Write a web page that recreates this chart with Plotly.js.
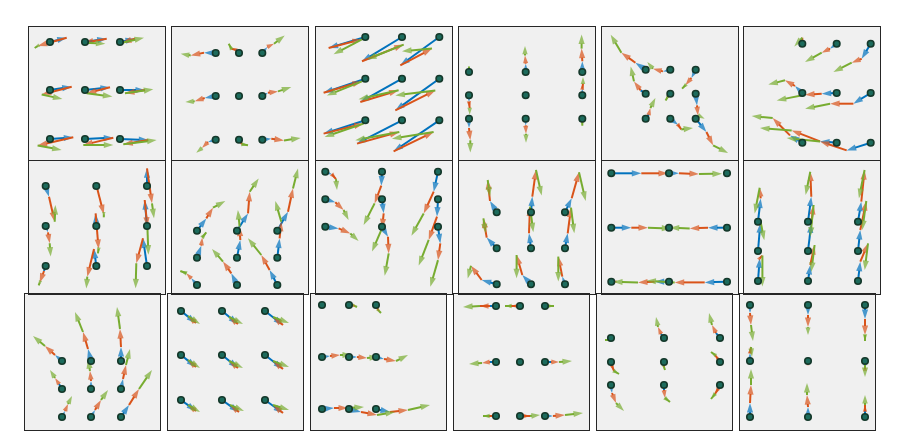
<!DOCTYPE html>
<html><head><meta charset="utf-8">
<script src="https://cdn.plot.ly/plotly-3.0.1.min.js"></script>
<style>html,body{margin:0;padding:0;background:#fff}#plot{width:913px;height:444px}</style>
</head><body><div id="plot"></div>
<script>
// Each panel: 3x3 grid of start points (gx columns, gy rows), and for each point
// three chained step vectors: blue, then orange (from blue tip), then green (from orange tip).
// Points are ordered row by row (top row first), left to right.
const gx1=[21,56,91], gy1=[15,63,112];
const blue1=[[16.7,-4.3],[21.7,-3.3],[15,-3.3],[21.7,-3.3],[25,-2.7],[25,0],[23.3,-1.7],[28.3,-1.3],[28.3,1]];
const orange1=[[-29,8.3],[-23,4],[-13,4],[-30,7.7],[-23.3,6],[-20,3.3],[-35.7,8.3],[-30,7.3],[-25,4.3]];
const green1=[[-3,2],[21.7,1],[22,-5],[20.7,4.7],[25.7,3.3],[28.3,-4],[24,4.3],[30,0],[33.3,-4.3]];

const gx2=[43.7,67,90.3], gy2=[26,69,112.7];
const blue2=[[-11.7,-0.3],[-3.3,-3.3],[5,-6],[-11,2],[-0.7,0],[5.7,-3.3],[-7.7,2.3],[1.7,2.3],[9,-1]];
const orange2=[[-13.3,2.7],[-4.3,-1],[6.7,-3.3],[-10,3.3],[-0.7,0.3],[10,-1.3],[-6,6],[1.3,2.3],[12.7,1.7]];
const green2=[[-10,-1.7],[-2.7,-5],[10.7,-8.3],[-9.3,0.7],[-1.7,0.3],[13.3,-4.3],[-5.7,4.7],[6,1],[16.7,-2.3]];

const gx3=[49.3,86,123.3], gy3=[10,51.7,93.3];
const blue3=[[-36.7,11],[-40,24.3],[-39,28.3],[-41.7,14],[-41.7,23.3],[-44,31.7],[-41.7,13.3],[-45,23.3],[-45.7,31]];
const orange3=[[33.3,-8.7],[41.7,-16.7],[31.7,-16.7],[38.3,-11.3],[38.3,-11.7],[40,-20],[40,-10],[42.3,-11.7],[40,-19.3]];
const green3=[[-28.3,15],[-36.7,14.7],[-30,2.7],[-35,14],[-40,9],[-40,5],[-39,13.3],[-44,8.3],[-41.7,6.7]];

const gx4=[10,66.7,123.3], gy4=[45,68.3,91.7];
const blue4=[[0,-1.7],[0,-8.3],[0,-10.7],[0,6.7],[0,0.3],[0,-6.7],[0,9.3],[0,6.7],[0,2.7]];
const orange4=[[0,-1],[-0.7,-8.3],[-0.7,-12.7],[0.7,6],[0,0.3],[0.7,-5],[1.3,12.3],[0.3,8.3],[0,1.3]];
const green4=[[0,-2.7],[0,-9.3],[0,-14],[0,6.7],[0,0.3],[0,-6.7],[0,12.3],[0,9],[0,3]];

const gx5=[43.7,68.3,93.7], gy5=[42.7,66.7,91.7];
const blue5=[[-10.3,-7],[-7.3,1.7],[-4.3,8.3],[-5,-3.3],[-1,1],[1.3,11.7],[3,-4],[7.7,6],[10.7,13.3]];
const orange5=[[-14,-10],[-10,-2.7],[-6,7.3],[-6.7,-9],[-2,2.7],[1,10],[1.7,-6.7],[3.3,4.7],[6.7,13.3]];
const green5=[[-10.7,-18],[-5.7,-6.7],[-3.3,3.3],[-3.3,-15],[-1.7,3],[6.7,3.3],[5,-10],[11.7,-1.3],[15,7.7]];

const gx6=[58.3,92.7,126.7], gy6=[16.7,66,115.7];
const blue6=[[0,-2],[-6.7,5],[-9,15],[-7.3,-7],[-15,0.7],[-17.3,10.7],[-12.3,-7.3],[-16.7,-1.3],[-24,7.7]];
const orange6=[[0,-4],[-8.3,4],[-10,4],[-10,-5.7],[-16.7,1],[-23.3,0],[-17.3,-17.3],[-28.3,-11],[-26.7,-9]];
const green6=[[-8,8.7],[-16.7,9.3],[-18.3,9.3],[-16.7,4.3],[-28.3,5.7],[-25,5],[-21,-2],[-31.7,-2.3],[-33.3,-3.3]];

const gx7=[16.7,67.3,118], gy7=[25,65,105];
const blue7=[[3.3,10.7],[0.5,1],[0,-17.7],[2.3,6.3],[-0.7,-12.7],[-2.3,-26],[-1.7,5],[-2.3,-17],[-4,-27.7]];
const orange7=[[5.7,25],[7,27.3],[5,35],[1.7,11],[3,35.7],[2.7,26.7],[-4.3,11.7],[-6.7,27.7],[-6.7,25]];
const green7=[[0.7,-16.7],[0,3],[2,15],[1,13.3],[-0.7,4.3],[1,28],[-1,2.7],[-1,11.7],[-0.7,25]];

const gx8=[25,65,105.3], gy8=[69.7,96.7,124];
const blue8=[[9.3,-12.3],[11,-17.3],[10.7,-19],[4.3,-12],[3.3,-17.7],[2.3,-19.3],[-5.7,-6.7],[-5.7,-11.7],[-7.7,-15]];
const orange8=[[6.7,-10.7],[1.7,-21.7],[5,-23.3],[1,-8.3],[-0.7,-13.3],[1.7,-16.7],[-5,-5],[-8.3,-11.7],[-8.3,-15]];
const green8=[[12.3,-6.7],[9,-13.3],[5,-20],[4,-5],[-1.7,-16.7],[-6,-20.7],[-6,-2.3],[-11,-12.7],[-13.3,-16.7]];

const gx9=[9.3,66,122], gy9=[10.7,38.3,65.7];
const blue9=[[6.7,2.7],[-0.7,14],[-4.3,20],[10,3],[1.7,14],[-1,17.3],[13.3,1.7],[6,10],[2.3,16.7]];
const orange9=[[4,4.7],[-6.7,17.7],[-10,21.7],[8.3,7.7],[-1.7,15],[-8.3,23.3],[11.7,5],[0.7,16.7],[-2.3,16.7]];
const green9=[[1,11],[-11,21.7],[-12.3,22.3],[5,10],[-10,23.3],[-10,25.7],[8.3,7.7],[-4,22.3],[-7.7,26.7]];

const gx10=[37.7,72,106], gy10=[51.3,87.3,123.3];
const blue10=[[-6.7,-11.3],[1.3,-15.7],[6.7,-14],[-10,-10.7],[-2,-15],[2.7,-15],[-15,-4.3],[-8.7,-9.3],[-2.7,-7.7]];
const orange10=[[-2.3,-21],[3.7,-26.7],[7.3,-26],[-3.3,-19.3],[1,-26.7],[3.3,-25.7],[-10.7,-14.3],[-5.7,-20],[-4,-20]];
const green10=[[2.3,16.7],[5.7,25.7],[6.7,28.7],[2.3,15],[3.3,25.7],[3.3,25.7],[-3.3,12.7],[0,23.3],[0,25]];

const gx11=[9.3,67,125], gy11=[12.3,66.7,120.7];
const blue11=[[30,0],[10,0],[0.5,0],[20,0],[-1,0],[-19,0],[2,0],[-14.3,0],[-22.3,0.7]];
const orange11=[[26.7,0],[20,0.7],[-1,0],[16.7,0],[1,0],[-18.3,0.7],[-1,0],[-16.7,0.7],[-30,0]];
const green11=[[3,0],[23,-0.3],[-3,0],[23.3,0.7],[-1,0],[-20,-0.7],[-3,0],[-25,-0.7],[-28.3,-1.7]];

const gx12=[14,64,114], gy12=[60.7,90,120];
const blue12=[[2.7,-23.3],[3.3,-25],[3.3,-20],[2.3,-27.7],[3.3,-27.7],[2.3,-21],[1.7,-22.7],[2.3,-16],[2.3,-19.3]];
const orange12=[[-1,-10.7],[-1,-25],[3.3,-31.7],[0,-3],[2.3,-18.3],[6,-29],[2.7,-2.7],[4.3,-20],[7.7,-18.3]];
const green12=[[-5,25.7],[-4.7,23.3],[-5.7,28.3],[4,20],[-3.3,31.7],[-4,29],[0,31],[-3.3,26.7],[-3.3,26.7]];

const gx13=[37,66,96], gy13=[67,95,123];
const blue13=[[-7,-6],[-3,-12],[0,-14],[-3,-5],[0,-8],[2,-10],[3,-6],[4,-7],[8,-12]];
const orange13=[[-10,-9],[-5,-17],[-1,-18],[-4,-6],[-1,-10],[3,-14],[3,-7],[6,-10],[10,-16]];
const green13=[[-12,-10],[-8,-20],[-3,-22],[-5,-8],[-2,-12],[4,-16],[4,-8],[7,-10],[13,-19]];

const gx14=[13,54,97], gy14=[17,61,106];
const blue14=[[15,12],[16,13],[18,14],[15,12],[16,13],[18,14],[15,11],[17,12],[18,13]];
const orange14=[[-8,-7],[-9,-7],[-10,-8],[-8,-7],[-9,-7],[-10,-8],[-8,-6],[-9,-7],[-10,-8]];
const green14=[[12,8],[14,7],[16,6],[12,8],[14,7],[16,6],[12,7],[14,6],[16,5]];

const gx15=[11,38,65], gy15=[11,63,115];
const blue15=[[1,0],[3,0],[1,3],[8,-1],[8,0],[8,2],[12,-1],[12,3],[14,3]];
const orange15=[[1,0],[3,1],[2,3],[10,-1],[10,1],[12,2],[14,0],[16,3],[18,-2]];
const green15=[[1,0],[2,1],[2,2],[12,0],[12,-1],[12,-6],[16,-1],[18,-3],[22,-5]];

const gx16=[42,66,91], gy16=[12,68,122];
const blue16=[[-6,0],[-4,0],[1,0],[-6,0],[1,0],[6,0],[-3,0],[4,0],[8,0]];
const orange16=[[-10,0],[-5,0],[2,0],[-8,1],[0.5,0],[8,0],[-4,0],[6,0],[12,-1]];
const green16=[[-17,1],[-6,0],[6,0],[-13,1],[0.5,0],[13,-1],[-6,0],[10,-1],[18,-2]];

const gx17=[14,67,123], gy17=[44,68,91];
const blue17=[[-1,1],[-3,-4],[-4,-5],[1,4],[0,2],[-2,-3],[1,8],[0,5],[-2,4]];
const orange17=[[-2,1],[-3,-7],[-4,-8],[2,5],[0,3],[-3,-4],[4,10],[1,8],[-3,5]];
const green17=[[-3,0],[-2,-10],[-3,-12],[5,3],[1,3],[-4,-3],[8,8],[5,4],[-4,5]];

const gx18=[10,68,125], gy18=[11,67,123];
const blue18=[[0,8],[0,10],[0,14],[0,-8],[0,1],[0,8],[0,-14],[0,-10],[0,-6]];
const orange18=[[1,12],[0,12],[0,16],[1,-6],[0,-1],[0,-4],[1,-18],[-1,-12],[0,-6]];
const green18=[[2,16],[0,8],[0,6],[1,10],[0,2],[0,12],[0,-16],[0,-12],[0,-10]];

const gridsX=[gx1,gx2,gx3,gx4,gx5,gx6,gx7,gx8,gx9,gx10,gx11,gx12,gx13,gx14,gx15,gx16,gx17,gx18];
const gridsY=[gy1,gy2,gy3,gy4,gy5,gy6,gy7,gy8,gy9,gy10,gy11,gy12,gy13,gy14,gy15,gy16,gy17,gy18];
const blues=[blue1,blue2,blue3,blue4,blue5,blue6,blue7,blue8,blue9,blue10,blue11,blue12,blue13,blue14,blue15,blue16,blue17,blue18];
const oranges=[orange1,orange2,orange3,orange4,orange5,orange6,orange7,orange8,orange9,orange10,orange11,orange12,orange13,orange14,orange15,orange16,orange17,orange18];
const greens=[green1,green2,green3,green4,green5,green6,green7,green8,green9,green10,green11,green12,green13,green14,green15,green16,green17,green18];

// Layout: panel boxes in page pixels
const W=913, H=444;
const rowTop=[27,161,294], rowH=[133,133,136];
const colLeft=[[29,172,316,459,602,744],[29,172,316,459,602,744],[25,168,311,454,597,740]];
const colW=[136,136,135];
const cols=['#0072BD','#D95319','#77AC30'];

const traces=[];
const layout={width:W,height:H,margin:{l:0,r:0,t:0,b:0},showlegend:false,
  plot_bgcolor:'#f0f0f0',paper_bgcolor:'#ffffff'};

for(let i=0;i<18;i++){
  const r=Math.floor(i/6), c=i%6, k=i+1;
  const sfx=k>1?String(k):'';
  const xa='x'+sfx, ya='y'+sfx;
  const L=colLeft[r][c], T=rowTop[r], w=colW[r], h=rowH[r];
  const axBase={showgrid:false,zeroline:false,showticklabels:false,ticks:'',showline:true,mirror:true,
    linecolor:'#262626',linewidth:1,fixedrange:true};
  layout['xaxis'+sfx]=Object.assign({},axBase,{domain:[L/W,(L+w)/W],range:[0,w],anchor:ya});
  layout['yaxis'+sfx]=Object.assign({},axBase,{domain:[1-(T+h)/H,1-T/H],range:[h,0],anchor:xa});
  const sx=[],sy=[];
  gridsY[i].forEach(y=>gridsX[i].forEach(x=>{sx.push(x);sy.push(y);}));
  const cx=sx.slice(), cy=sy.slice();
  [blues[i],oranges[i],greens[i]].forEach((vec,ci)=>{
    const X=[],Y=[],S=[];
    vec.forEach((v,j)=>{
      const x0=cx[j],y0=cy[j],x1=x0+v[0],y1=y0+v[1];
      const len=Math.hypot(v[0],v[1]);
      X.push(x0,x1,null);Y.push(y0,y1,null);
      S.push(0,Math.max(4,Math.min(10,len*0.5+4)),0);
      cx[j]=x1;cy[j]=y1;
    });
    traces.push({type:'scatter',mode:'lines+markers',x:X,y:Y,xaxis:xa,yaxis:ya,
      line:{color:cols[ci],width:2},
      marker:{symbol:'arrow',angleref:'previous',size:S,color:cols[ci],line:{width:0}},
      hoverinfo:'skip',connectgaps:false});
  });
  traces.push({type:'scatter',mode:'markers',x:sx,y:sy,xaxis:xa,yaxis:ya,
    marker:{size:6.5,color:'#1c6b5c',line:{color:'#15392b',width:1.6}},hoverinfo:'skip'});
}
Plotly.newPlot('plot',traces,layout,{staticPlot:true,displayModeBar:false});
</script></body></html>
